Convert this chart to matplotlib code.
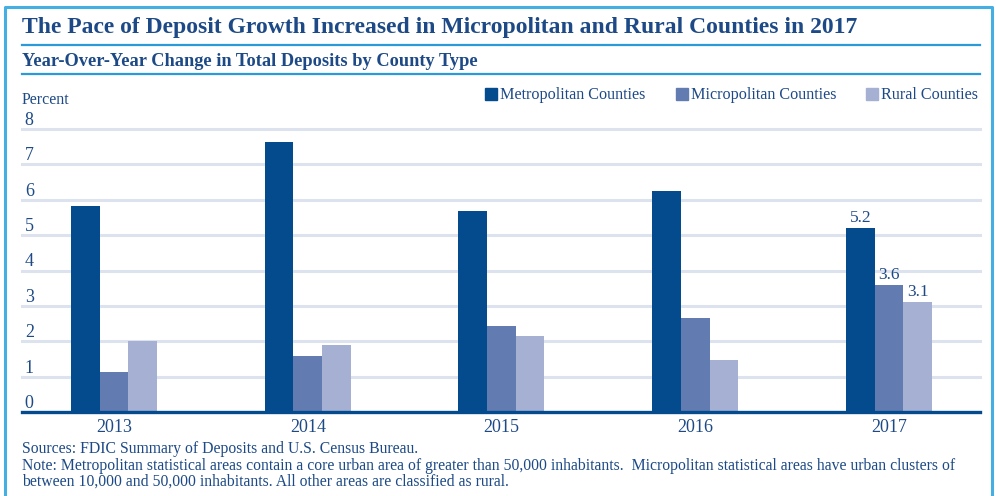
import matplotlib
matplotlib.use('Agg')
import matplotlib.pyplot as plt
import numpy as np
from matplotlib.lines import Line2D
from matplotlib.patches import Rectangle

years = ['2013', '2014', '2015', '2016', '2017']
metro = [5.83, 7.64, 5.68, 6.25, 5.2]
micro = [1.12, 1.57, 2.42, 2.66, 3.6]
rural = [2.02, 1.88, 2.14, 1.46, 3.1]
series_names = ['Metropolitan Counties', 'Micropolitan Counties', 'Rural Counties']
yticks = [0, 1, 2, 3, 4, 5, 6, 7, 8]

c_metro, c_micro, c_rural = '#034b8d', '#627bb1', '#a5b0d2'
c_text = '#1d4a86'
c_rule = '#2a9ad8'
c_grid = '#dde2ef'
serif = 'Liberation Serif'

W, H = 996, 496
fig = plt.figure(figsize=(W / 100, H / 100), dpi=100)

def fx(px):
    return px / W

def fy(py):
    return 1 - py / H

# frame around the whole chart
fig.add_artist(Line2D([fx(5), fx(5), fx(992), fx(992)], [fy(500), fy(7), fy(7), fy(500)],
                      color='#45aee3', lw=2.2, transform=fig.transFigure))
for yy in (45, 74):
    fig.add_artist(Line2D([fx(22), fx(980)], [fy(yy), fy(yy)], color=c_rule, lw=1.6,
                          transform=fig.transFigure))

fig.text(fx(22), fy(27), 'The Pace of Deposit Growth Increased in Micropolitan and Rural Counties in 2017',
         family=serif, weight='bold', fontsize=17, color=c_text, va='center', ha='left')
fig.text(fx(22), fy(61), 'Year-Over-Year Change in Total Deposits by County Type',
         family=serif, weight='bold', fontsize=13.2, color=c_text, va='center', ha='left')
fig.text(fx(22), fy(100), 'Percent', family=serif, fontsize=11.5, color=c_text, va='center', ha='left')

# axes
ax = fig.add_axes([fx(22), fy(412), fx(980) - fx(22), fy(129) - fy(412)])
x = np.arange(len(years))
w = 0.148
ax.bar(x - w, metro, w, color=c_metro, label=series_names[0], zorder=3)
ax.bar(x, micro, w, color=c_micro, label=series_names[1], zorder=3)
ax.bar(x + w, rural, w, color=c_rural, label=series_names[2], zorder=3)

ax.set_xlim(-0.475, 4.47)
ax.set_ylim(0, 8)
for t in yticks[1:]:
    ax.axhline(t, color=c_grid, lw=2.2, zorder=1, clip_on=False)
ax.axhline(0, color=c_metro, lw=2.4, zorder=4, clip_on=False)
for t in yticks:
    ax.text(0.003, t, str(t), transform=ax.get_yaxis_transform(), family=serif,
            fontsize=13, color=c_text, ha='left', va='bottom')

for s in ax.spines.values():
    s.set_visible(False)
ax.set_yticks([])
ax.set_xticks(x)
ax.set_xticklabels(years, family=serif, fontsize=13, color=c_text)
ax.tick_params(axis='x', length=0, pad=5)

# value labels on 2017
for dx, vals in zip((-w, 0, w), (metro, micro, rural)):
    ax.text(x[-1] + dx, vals[-1] + 0.06, f'{vals[-1]:.1f}', family=serif, fontsize=12.5,
            color=c_text, ha='center', va='bottom')

# legend drawn by hand
leg = [(485, series_names[0], c_metro), (676, series_names[1], c_micro), (866, series_names[2], c_rural)]
for px, name, col in leg:
    fig.add_artist(Rectangle((fx(px), fy(100)), fx(12), fy(88) - fy(100), color=col,
                             transform=fig.transFigure))
    fig.text(fx(px + 15), fy(95), name, family=serif, fontsize=11.6, color=c_text, va='center', ha='left')

note_kw = dict(family=serif, fontsize=11.3, color=c_text, va='center', ha='left')
fig.text(fx(22), fy(449), 'Sources: FDIC Summary of Deposits and U.S. Census Bureau.', **note_kw)
fig.text(fx(22), fy(466), 'Note: Metropolitan statistical areas contain a core urban area of greater than 50,000 inhabitants.  '
         'Micropolitan statistical areas have urban clusters of', **note_kw)
fig.text(fx(22), fy(482), 'between 10,000 and 50,000 inhabitants. All other areas are classified as rural.', **note_kw)

fig.savefig('out.png', dpi=100)
